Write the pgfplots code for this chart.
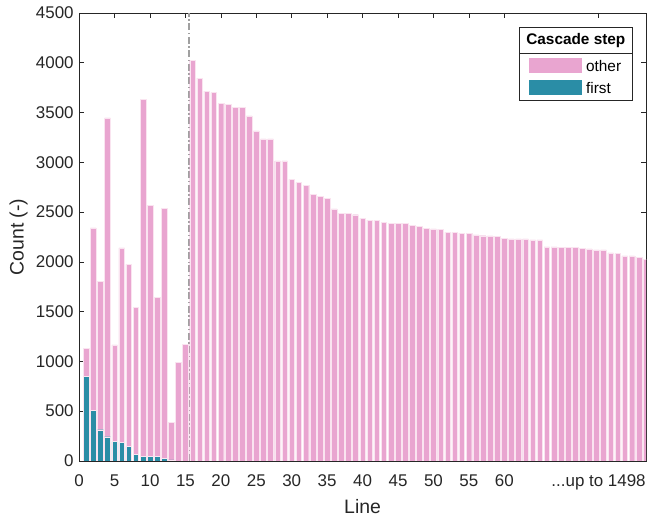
\documentclass[border=0pt]{standalone}
\usepackage{fontspec}
\setmainfont{Liberation Sans}
\usepackage{pgfplots}
\usepackage{pgfplotstable}
\pgfplotsset{compat=1.18}
\definecolor{pinkc}{RGB}{233,165,208}
\definecolor{tealc}{RGB}{42,141,166}
\definecolor{axc}{RGB}{38,38,38}
\definecolor{edgec}{RGB}{250,228,240}
\definecolor{linec}{RGB}{160,160,160}
\newcommand{\uptolabel}{...up to 1498}

\pgfplotstableread{
line first other
1 850 280
2 505 1835
3 313 1492
4 243 3202
5 193 972
6 187 1953
7 143 1832
8 63 1477
9 43 3587
10 43 2527
11 43 1602
12 23 2517
13 10 375
14 0 990
15 0 1170
16 0 4025
17 0 3845
18 0 3715
19 0 3700
20 0 3595
21 0 3585
22 0 3555
23 0 3550
24 0 3465
25 0 3315
26 0 3235
27 0 3235
28 0 3015
29 0 3015
30 0 2828
31 0 2795
32 0 2765
33 0 2675
34 0 2660
35 0 2640
36 0 2533
37 0 2485
38 0 2485
39 0 2473
40 0 2440
41 0 2420
42 0 2416
43 0 2393
44 0 2387
45 0 2383
46 0 2383
47 0 2366
48 0 2353
49 0 2333
50 0 2330
51 0 2326
52 0 2295
53 0 2295
54 0 2287
55 0 2287
56 0 2270
57 0 2262
58 0 2260
59 0 2253
60 0 2237
61 0 2230
62 0 2230
63 0 2230
64 0 2220
65 0 2220
66 0 2150
67 0 2150
68 0 2143
69 0 2143
70 0 2143
71 0 2133
72 0 2130
73 0 2120
74 0 2120
75 0 2090
76 0 2083
77 0 2060
78 0 2060
79 0 2043
80 0 2026
}\datatable

\begin{document}
\begin{tikzpicture}
\begin{axis}[
  scale only axis, width=568.6pt, height=449.3pt,
  xmin=0, xmax=80, ymin=0, ymax=4500,
  ybar stacked, bar width=0.8,
  axis line style={axc, line width=0.6pt},
  tick style={axc, line width=0.6pt}, major tick length=5pt,
  tick align=inside,
  xtick={0,5,10,15,20,25,30,35,40,45,50,55,60,73.3},
  xticklabels={0,5,10,15,20,25,30,35,40,45,50,55,60,\uptolabel},
  ytick={0,500,1000,1500,2000,2500,3000,3500,4000,4500},
  scaled y ticks=false,
  /pgf/number format/assume math mode=true,
  yticklabel style={/pgf/number format/1000 sep={}, xshift=-2pt},
  tick label style={font=\fontsize{17}{19}\selectfont, text=axc},
  xticklabel style={yshift=-10pt},
  xlabel={Line}, ylabel={Count (-)},
  xlabel style={font=\fontsize{19.5}{22}\selectfont, text=axc, at={(axis description cs:0.5,-0.1025)}, anchor=center},
  ylabel style={font=\fontsize{19.5}{22}\selectfont, text=axc, at={(axis description cs:-0.107,0.5)}, anchor=center},
]
\addplot[fill=tealc, draw=edgec, line width=0.4pt] table[x=line, y=first] {\datatable};
\addplot[fill=pinkc, draw=edgec, line width=0.4pt] table[x=line, y=other] {\datatable};
\draw[linec, line width=1.5pt, dash pattern=on 7pt off 2.5pt on 1.5pt off 2.5pt] (axis cs:15.5,0) -- (axis cs:15.5,4500);
\end{axis}
\begin{scope}[shift={(current axis.south west)}]
\begin{scope}[shift={(-79.4pt,462.3pt)}, x=1pt, y=-1pt]
\path (0,0) rectangle (649,519);
\draw[axc, line width=0.6pt, fill=white] (521,27.3) rectangle (634.3,100.7);
\draw[axc, line width=0.6pt] (521,53.3) -- (634.3,53.3);
\node[font=\fontsize{15.4}{17}\selectfont\bfseries, text=black] at (577.6,40.5) {Cascade step};
\fill[pinkc] (531,58.3) rectangle (583.7,73.7);
\fill[tealc] (531,80.3) rectangle (583.7,95.7);
\node[anchor=west, inner sep=0pt, font=\fontsize{15.4}{17}\selectfont, text=black] at (587.7,66.5) {other};
\node[anchor=west, inner sep=0pt, font=\fontsize{15.4}{17}\selectfont, text=black] at (587.7,88.5) {first};
\end{scope}
\end{scope}
\end{tikzpicture}
\end{document}
